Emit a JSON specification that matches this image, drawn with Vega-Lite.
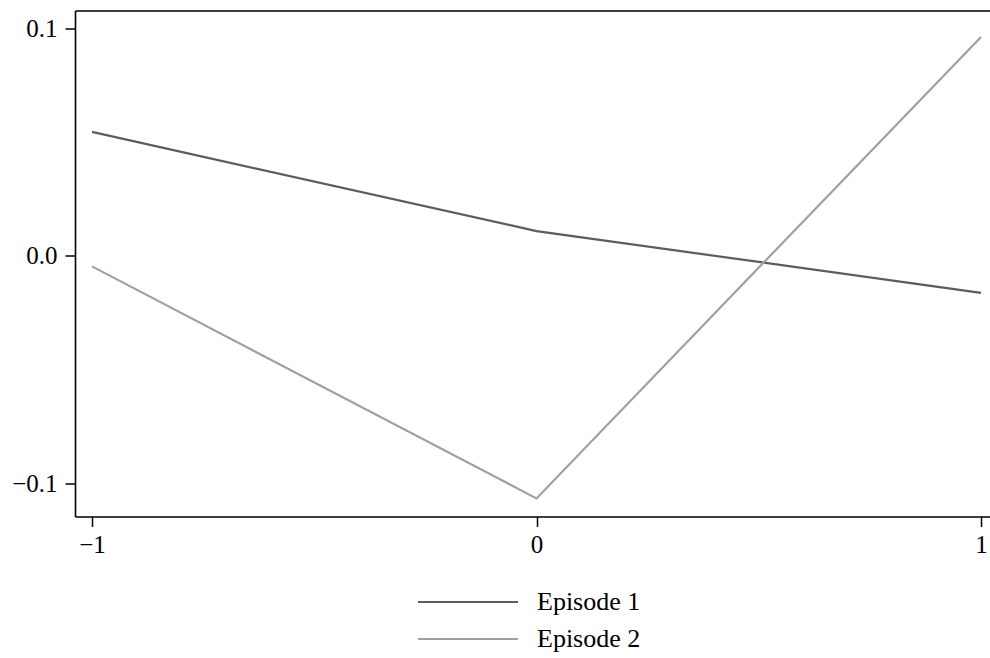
{
  "$schema": "https://vega.github.io/schema/vega-lite/v6.json",
  "width": 915,
  "height": 506,
  "autosize": "none",
  "padding": {"left": 75, "top": 10.5, "right": 0, "bottom": 141.5},
  "background": "white",
  "config": {
    "view": {"stroke": null},
    "font": "Liberation Serif"
  },
  "data": {
    "values": [
      {"t": -1, "series": "Episode 1", "v": 0.0544},
      {"t": 0, "series": "Episode 1", "v": 0.0109},
      {"t": 1, "series": "Episode 1", "v": -0.0162},
      {"t": -1, "series": "Episode 2", "v": -0.0046},
      {"t": 0, "series": "Episode 2", "v": -0.1064},
      {"t": 1, "series": "Episode 2", "v": 0.0961}
    ]
  },
  "encoding": {
    "y": {
      "field": "v",
      "type": "quantitative",
      "scale": {"domain": [-0.11434, 0.10768], "nice": false, "zero": false},
      "axis": {
        "tickCount": 3,
        "format": ".1f",
        "title": null,
        "grid": false,
        "domainColor": "black",
        "domainWidth": 1.6,
        "tickColor": "black",
        "tickWidth": 1.5,
        "tickSize": 10,
        "labelFontSize": 25,
        "labelColor": "black",
        "labelPadding": 8,
        "labelFlush": false,
        "labelOverlap": false,
        "labelFont": "Liberation Serif"
      }
    },
    "color": {
      "field": "series",
      "type": "nominal",
      "scale": {"domain": ["Episode 1", "Episode 2"], "range": ["#5c5c5c", "#a0a0a0"]},
      "legend": {
        "title": null,
        "orient": "none",
        "legendX": 380,
        "legendY": 578.5,
        "direction": "vertical",
        "symbolType": "M-5,0H5",
        "symbolSize": 400,
        "symbolStrokeWidth": 2.2,
        "symbolOpacity": 1,
        "labelFontSize": 26,
        "labelColor": "black",
        "labelFont": "Liberation Serif",
        "labelOffset": 56,
        "rowPadding": 11,
        "padding": 0
      }
    }
  },
  "layer": [
    {
      "mark": {"type": "line", "strokeWidth": 2.2},
      "encoding": {
        "x": {
          "field": "t",
          "type": "quantitative",
          "scale": {"domain": [-1.0382, 1.0202], "nice": false, "zero": false},
          "axis": {
            "orient": "bottom",
            "tickCount": 3,
            "format": "d",
            "title": null,
            "grid": false,
            "domainColor": "black",
            "domainWidth": 1.6,
            "tickColor": "black",
            "tickWidth": 1.5,
            "tickSize": 10,
            "labelFontSize": 25,
            "labelColor": "black",
            "labelPadding": 6,
            "labelFlush": false,
            "labelOverlap": false,
            "labelFont": "Liberation Serif"
          }
        }
      }
    },
    {
      "mark": {"type": "line", "strokeWidth": 2.2, "opacity": 0},
      "encoding": {
        "x": {
          "field": "t",
          "type": "quantitative",
          "axis": {
            "orient": "top",
            "title": null,
            "grid": false,
            "labels": false,
            "ticks": false,
            "domainColor": "black",
            "domainWidth": 1.6
          }
        }
      }
    }
  ],
  "resolve": {"axis": {"x": "independent"}}
}
